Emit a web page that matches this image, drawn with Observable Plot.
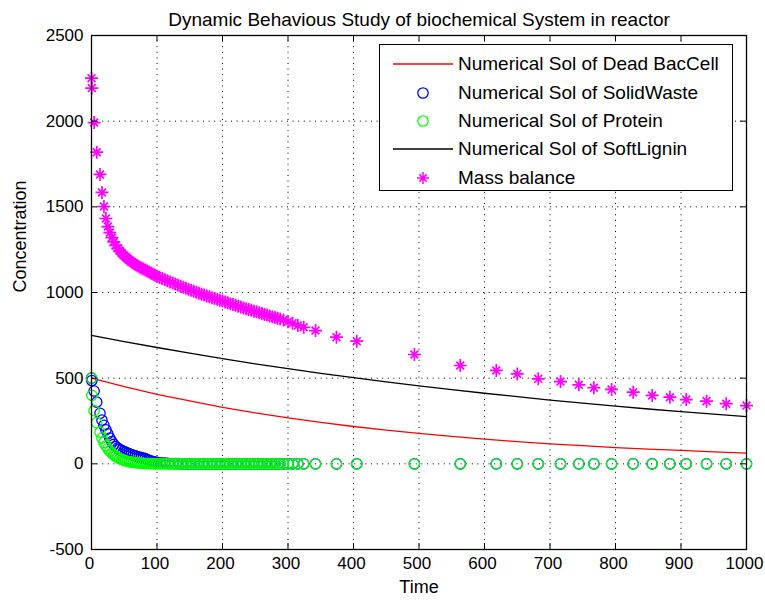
<!DOCTYPE html>
<html><head><meta charset="utf-8">
<script src="https://cdn.jsdelivr.net/npm/d3@7"></script>
<script src="https://cdn.jsdelivr.net/npm/@observablehq/plot@0.6"></script>
<style>
body{margin:0;background:#fff;}
#wrap{position:relative;width:765px;height:606px;font-family:"Liberation Sans",Arial,sans-serif;}
#legend{position:absolute;left:379px;top:44px;width:354px;height:147px;border:1px solid #000;background:#fff;box-sizing:border-box;}
#legend svg{position:absolute;left:0;top:0;}
.lab{position:absolute;left:78px;font-size:19px;line-height:22px;white-space:nowrap;color:#000;}
</style></head>
<body><div id="wrap"></div>
<script>
const title = "Dynamic Behavious Study of biochemical System in reactor";
const xLabel = "Time";
const yLabel = "Concentration";
const xTicks = [0,100,200,300,400,500,600,700,800,900,1000];
const yTicks = [-500,0,500,1000,1500,2000,2500];
const seriesNames = ["Numerical Sol of Dead BacCell","Numerical Sol of SolidWaste","Numerical Sol of Protein","Numerical Sol of SoftLignin","Mass balance"];

// continuous solutions (lines)
const lineTime = [0,50,100,150,200,250,300,350,400,450,500,550,600,650,700,750,800,850,900,950,1000];
const deadBacCell = [500,451,406,367,330,298,268,242,218,197,178,160,144,130,117,106,95,86,78,70,63];
const softLignin = [750,713,679,646,614,584,556,528,503,478,455,433,412,392,372,354,337,320,305,290,276];

// solver output times (markers)
const markerTime = [
  0,0.5,4,8,13,16,19,22,
  25,28,31,34,37,40,43,46,49,52,55,58,61,64,67,70,73,76,79,82,85,88,91,94,97,
  100,104,108,112,116,120,124,128,132,136,140,144,148,152,156,160,164,168,172,176,180,184,188,192,196,200,
  204,208,212,216,220,224,228,232,236,240,244,248,252,256,260,264,268,272,276,280,284,288,
  293,300,307,315,324,342,374,405,
  493,563,618,650,682,716,744,767,794,827,856,883,908,939,969,1000];
const massBalance = [
  2251,2193,1992,1819,1689,1584,1502,1432,
  1385,1350,1320,1295,1275,1258,1243,1230,1218,1207,1197,1188,1179,1171,1163,1156,1149,1143,1137,1131,1125,1119,1113,1107,1101,
  1095,1088,1081,1075,1068,1062,1056,1049,1043,1037,1031,1025,1019,1013,1007,1001,996,990,985,980,975,970,965,960,955,950,
  945,940,935,930,925,920,915,910,905,901,896,891,887,882,877,872,868,863,858,854,849,845,
  839,830,820,808,797,778,739,716,
  638,574,545,525,496,480,461,444,434,418,399,389,375,366,351,340];
const solidWaste = [
  500,486,425,360,295,255,225,198,
  175,150,130,113,100,92,85,79,73,68,63,58,54,50,46,42,39,36,33,30,24,20,16,13,10,
  8,6,5,4,3,2,2,1,1,0,0,0,0,0,0,0,0,0,0,0,0,0,0,0,0,0,
  0,0,0,0,0,0,0,0,0,0,0,0,0,0,0,0,0,0,0,0,0,0,
  0,0,0,0,0,0,0,0,
  0,0,0,0,0,0,0,0,0,0,0,0,0,0,0,0];
const protein = [
  500,400,310,240,185,150,125,105,
  88,74,62,52,44,37,31,26,22,18,15,12,10,8,7,6,5,4,3,2,2,1,1,1,0,
  0,0,0,0,0,0,0,0,0,0,0,0,0,0,0,0,0,0,0,0,0,0,0,0,0,0,
  0,0,0,0,0,0,0,0,0,0,0,0,0,0,0,0,0,0,0,0,0,0,
  0,0,0,0,0,0,0,0,
  0,0,0,0,0,0,0,0,0,0,0,0,0,0,0,0];

const lines = lineTime.map((t, i) => ({t, dead: deadBacCell[i], lignin: softLignin[i]}));
const markers = markerTime.map((t, i) => ({t, waste: solidWaste[i], protein: protein[i], mass: massBalance[i]}));

const star = {draw(ctx, size) {
  const r = Math.sqrt(size / Math.PI), d = r * 0.6;
  ctx.moveTo(-r, 0); ctx.lineTo(r, 0);
  ctx.moveTo(0, -r); ctx.lineTo(0, r);
  ctx.moveTo(-d, -d); ctx.lineTo(d, d);
  ctx.moveTo(-d, d); ctx.lineTo(d, -d);
}};

const font = "'Liberation Sans', Arial, sans-serif";
const grid = {stroke: "#000", strokeOpacity: 1, strokeWidth: 1, strokeDasharray: "1,4.6"};

const chart = Plot.plot({
  width: 765, height: 606,
  marginLeft: 91, marginRight: 19, marginTop: 35, marginBottom: 57,
  style: {fontFamily: font, fontSize: "18px", color: "#000", background: "#fff"},
  x: {domain: [0, 1000], label: null},
  y: {domain: [-500, 2500], label: null},
  marks: [
    Plot.gridX(xTicks, grid),
    Plot.gridY(yTicks, grid),
    Plot.line(lines, {x: "t", y: "dead", stroke: "#ff0000", strokeWidth: 1.3}),
    Plot.dot(markers, {x: "t", y: "waste", r: 5.2, stroke: "#0000ff", fill: "none", strokeWidth: 1.3}),
    Plot.dot(markers, {x: "t", y: "protein", r: 5.2, stroke: "#00ff00", fill: "none", strokeWidth: 1.3}),
    Plot.line(lines, {x: "t", y: "lignin", stroke: "#000", strokeWidth: 1.3}),
    Plot.dot(markers, {x: "t", y: "mass", r: 6.5, symbol: star, stroke: "#ff00ff", fill: "none", strokeWidth: 1.7}),
    Plot.frame({stroke: "#000", strokeWidth: 1.3}),
    Plot.tickX(xTicks, {x: d => d, stroke: "#000", insetTop: 508}),
    Plot.tickX(xTicks, {x: d => d, stroke: "#000", insetBottom: 508}),
    Plot.tickY(yTicks, {y: d => d, stroke: "#000", insetRight: 649}),
    Plot.tickY(yTicks, {y: d => d, stroke: "#000", insetLeft: 649}),
    Plot.axisX(xTicks, {tickSize: 0, tickPadding: 7, tickFormat: d => String(d), fontSize: 17, dx: -2, label: null}),
    Plot.axisY(yTicks, {tickSize: 0, tickPadding: 8, tickFormat: d => String(d), fontSize: 17, label: null}),
    Plot.text([xLabel], {frameAnchor: "bottom", dy: 43, fontSize: 18}),
    Plot.text([yLabel], {frameAnchor: "left", rotate: -90, dx: -71, fontSize: 18}),
    Plot.text([title], {frameAnchor: "top", dy: -23, fontSize: 19})
  ]
});
const wrap = document.getElementById("wrap");
wrap.appendChild(chart);

// legend
const leg = document.createElement("div");
leg.id = "legend";
wrap.appendChild(leg);
const rowsY = [19, 48, 76, 104, 133];
const svg = d3.select(leg).append("svg").attr("width", 352).attr("height", 145);
const styles = [
  {type: "line", color: "#ff0000"},
  {type: "circle", color: "#0000ff"},
  {type: "circle", color: "#00ff00"},
  {type: "line", color: "#000"},
  {type: "star", color: "#ff00ff"}
];
styles.forEach((s, i) => {
  const y = rowsY[i];
  if (s.type === "line") svg.append("line").attr("x1", 13).attr("x2", 73).attr("y1", y).attr("y2", y).attr("stroke", s.color).attr("stroke-width", 1.3);
  else if (s.type === "circle") svg.append("circle").attr("cx", 43).attr("cy", y).attr("r", 5.2).attr("fill", "none").attr("stroke", s.color).attr("stroke-width", 1.3);
  else svg.append("path").attr("transform", `translate(43,${y})`).attr("d", d3.symbol(star, 36 * Math.PI)()).attr("fill", "none").attr("stroke", s.color).attr("stroke-width", 1.5);
  const lab = document.createElement("div");
  lab.className = "lab";
  lab.style.top = (y - 11) + "px";
  lab.textContent = seriesNames[i];
  leg.appendChild(lab);
});
</script>
</body></html>
